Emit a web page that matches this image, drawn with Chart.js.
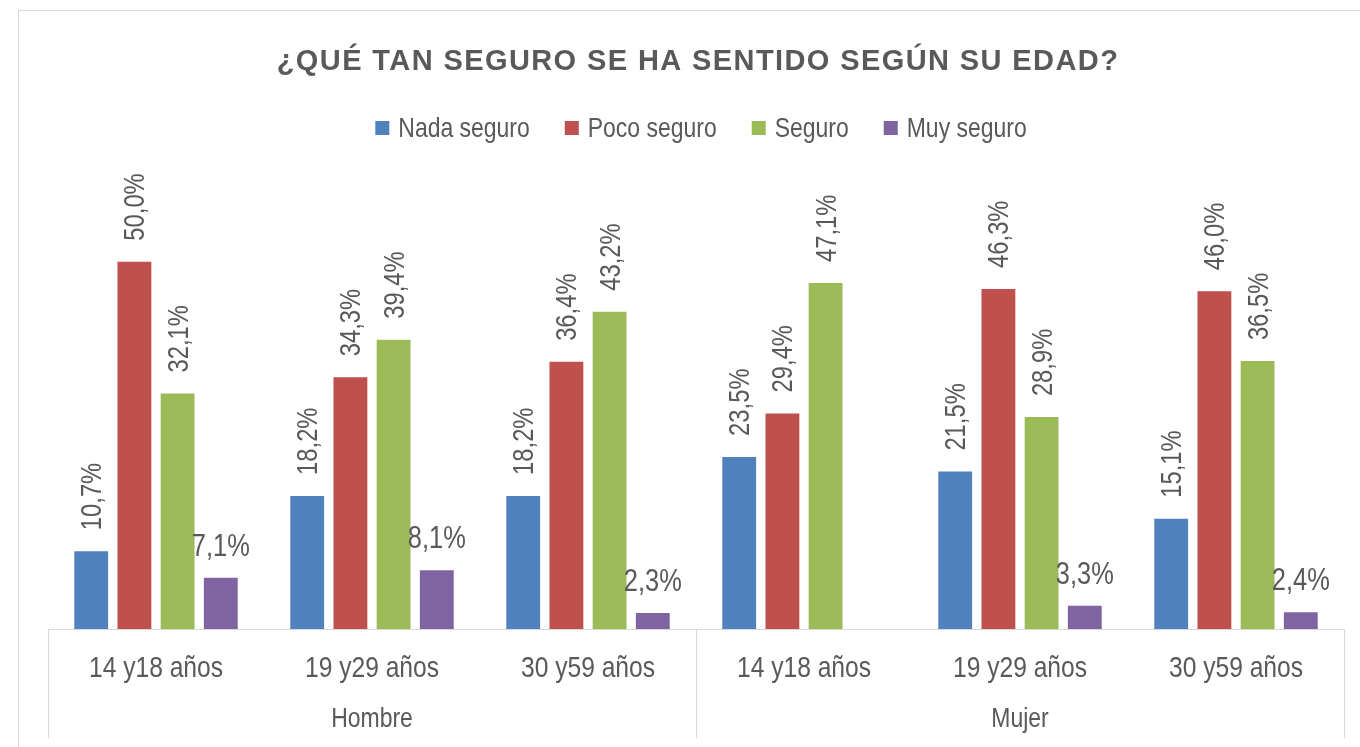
<!DOCTYPE html>
<html>
<head>
<meta charset="utf-8">
<script src="https://cdn.jsdelivr.net/npm/chart.js@4.4.1/dist/chart.umd.min.js"></script>
<style>
  html, body { margin: 0; padding: 0; background: #fff; overflow: hidden; }
  #frame { position: absolute; left: 18px; top: 10px; width: 1400px; height: 800px; border: 1px solid #d9d9d9; }
  #wrap { position: absolute; left: 0; top: 0; width: 1360px; height: 747px; }
</style>
</head>
<body>
<div id="frame"></div>
<div id="wrap"><canvas id="chart"></canvas></div>
<script>
const title = '¿QUÉ TAN SEGURO SE HA SENTIDO SEGÚN SU EDAD?';
const ageLabels = ['14 y18 años', '19 y29 años', '30 y59 años', '14 y18 años', '19 y29 años', '30 y59 años'];
const genderGroups = ['Hombre', 'Mujer'];
const seriesNames = ['Nada seguro', 'Poco seguro', 'Seguro', 'Muy seguro'];
const nadaSeguro = [10.7, 18.2, 18.2, 23.5, 21.5, 15.1];
const pocoSeguro = [50.0, 34.3, 36.4, 29.4, 46.3, 46.0];
const seguro = [32.1, 39.4, 43.2, 47.1, 28.9, 36.5];
const muySeguro = [7.1, 8.1, 2.3, null, 3.3, 2.4];
const colors = ['#4f81bd', '#c0504d', '#9bbb59', '#8064a2'];

const FONT = "'Liberation Sans', Arial, sans-serif";
const TEXT = '#595959';
const SQUEEZE = 0.82; // the source uses a narrow face

const fmt = v => v.toFixed(1).replace('.', ',') + '%';

function narrowText(ctx, text, x, y, size, align, angle) {
  ctx.save();
  ctx.translate(x, y);
  if (angle) ctx.rotate(angle);
  ctx.scale(SQUEEZE, 1);
  ctx.font = size + 'px ' + FONT;
  ctx.textAlign = align;
  ctx.fillText(text, 0, 0);
  ctx.restore();
}

// title, legend, value labels and the two-level axis
const decor = {
  id: 'decor',
  afterDraw(chart) {
    const ctx = chart.ctx;
    const area = chart.chartArea;
    const x = chart.scales.x;
    const mid = 698;

    ctx.save();
    ctx.fillStyle = TEXT;
    ctx.font = 'bold 29px ' + FONT;
    ctx.letterSpacing = '1.4px';
    ctx.textAlign = 'center';
    ctx.textBaseline = 'alphabetic';
    ctx.fillText(title, mid, 70);
    ctx.letterSpacing = '0px';

    // legend
    ctx.font = '28px ' + FONT;
    const box = 14, gap = 9, space = 35;
    const widths = seriesNames.map(s => ctx.measureText(s).width * SQUEEZE);
    const total = widths.reduce((a, w) => a + box + gap + w, 0) + space * (seriesNames.length - 1);
    let lx = mid + 3 - total / 2;
    seriesNames.forEach((s, i) => {
      ctx.fillStyle = colors[i];
      ctx.fillRect(lx, 121, box, box);
      ctx.fillStyle = TEXT;
      narrowText(ctx, s, lx + box + gap, 137, 28, 'left');
      lx += box + gap + widths[i] + space;
    });

    // value labels
    chart.data.datasets.forEach((ds, di) => {
      chart.getDatasetMeta(di).data.forEach((bar, i) => {
        const v = ds.data[i];
        if (v == null) return;
        ctx.fillStyle = TEXT;
        ctx.textBaseline = 'alphabetic';
        if (v < 10) {
          narrowText(ctx, fmt(v), bar.x, bar.y - 21, 31, 'center');
        } else {
          narrowText(ctx, fmt(v), bar.x + 10, bar.y - 20, 29, 'left', -Math.PI / 2);
        }
      });
    });

    // category labels
    ctx.fillStyle = TEXT;
    ctx.textBaseline = 'alphabetic';
    ageLabels.forEach((l, i) => narrowText(ctx, l, x.getPixelForValue(i), 677, 30, 'center'));

    // group separators and gender labels
    ctx.strokeStyle = '#d9d9d9';
    ctx.lineWidth = 1;
    const bottom = 738;
    [-0.5, 2.5, 5.5].forEach(p => {
      const px = Math.round(x.getPixelForValue(p)) + 0.5;
      ctx.beginPath();
      ctx.moveTo(px, area.bottom);
      ctx.lineTo(px, bottom);
      ctx.stroke();
    });
    genderGroups.forEach((g, gi) => {
      const cx = (x.getPixelForValue(gi * 3 - 0.5) + x.getPixelForValue(gi * 3 + 2.5)) / 2;
      narrowText(ctx, g, cx, 727, 28, 'center');
    });
    ctx.restore();
  }
};

new Chart(document.getElementById('chart'), {
  type: 'bar',
  data: {
    labels: ageLabels,
    datasets: [nadaSeguro, pocoSeguro, seguro, muySeguro].map((d, i) => ({
      label: seriesNames[i],
      data: d,
      backgroundColor: colors[i],
      borderColor: 'rgba(255,255,255,0.55)',
      borderWidth: 1,
      categoryPercentage: 0.8,
      barPercentage: 0.83
    }))
  },
  options: {
    responsive: true,
    maintainAspectRatio: false,
    animation: false,
    layout: { padding: { left: 48, right: 16, top: 187, bottom: 0 } },
    plugins: {
      legend: { display: false },
      title: { display: false },
      tooltip: { enabled: false }
    },
    scales: {
      y: { display: false, min: 0, max: 60 },
      x: {
        grid: { display: false, drawTicks: false },
        border: { display: true, color: '#d9d9d9', width: 1 },
        ticks: { display: false },
        afterFit(scale) { scale.height = 118; }
      }
    }
  },
  plugins: [decor]
});
</script>
</body>
</html>
